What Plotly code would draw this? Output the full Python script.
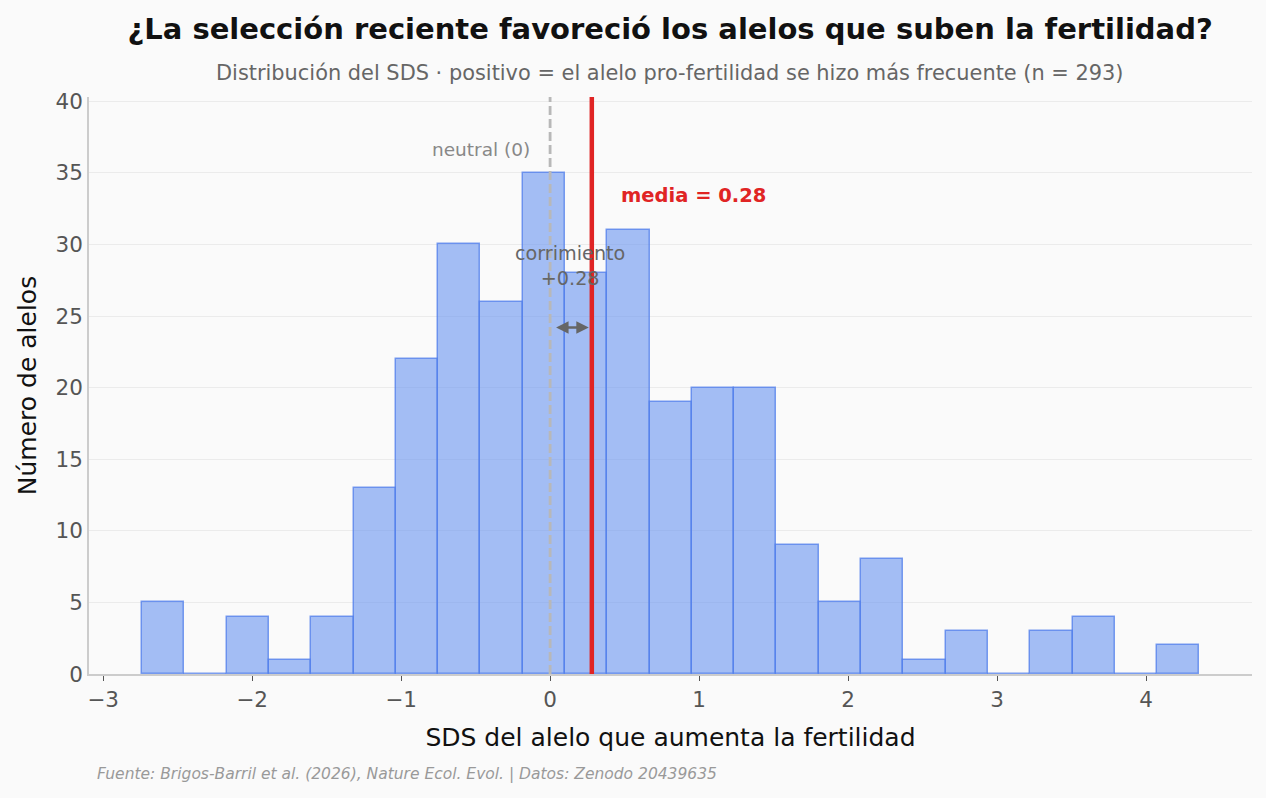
import plotly.graph_objects as go

# Histogram bins (left edge of first bin and common width) and counts
bin_start = -2.738
bin_width = 0.2838
counts = [5, 0, 4, 1, 4, 13, 22, 30, 26, 35, 28, 31, 19, 20, 20, 9, 5, 8, 1, 3, 0, 3, 4, 0, 2]
mean_sds = 0.28
n_total = 293
x_tickvals = [-3, -2, -1, 0, 1, 2, 3, 4]
x_ticktext = ["−3", "−2", "−1", "0", "1", "2", "3", "4"]
y_tickvals = [0, 5, 10, 15, 20, 25, 30, 35, 40]

x_centers = [bin_start + bin_width * (i + 0.5) for i in range(len(counts))]

fig = go.Figure()
fig.add_trace(go.Bar(
    x=x_centers, y=counts, width=[bin_width] * len(counts),
    marker=dict(color="rgba(100,145,240,0.58)",
                line=dict(color="rgba(80,125,235,0.75)", width=1.5)),
    hoverinfo="x+y", showlegend=False,
))

# neutral line
fig.add_shape(type="line", x0=0, x1=0, y0=0, y1=1, xref="x", yref="paper", layer="above",
              line=dict(color="#b8b8b8", width=2.8, dash="9px,4px"))
# mean line
fig.add_shape(type="line", x0=mean_sds, x1=mean_sds, y0=0, y1=1, xref="x", yref="paper", layer="above",
              line=dict(color="#e02424", width=4.5))

fig.add_annotation(x=-0.12, y=36.6, text="neutral (0)", showarrow=False, xanchor="right",
                   font=dict(size=18.5, color="#888888"))
fig.add_annotation(x=0.46, y=33.4, text="<b>media = %.2f</b>" % mean_sds, showarrow=False,
                   xanchor="left", font=dict(size=19.5, color="#e02424"))
fig.add_annotation(x=0.135, y=28.5, text="corrimiento<br>+%.2f" % mean_sds, showarrow=False,
                   font=dict(size=19.2, color="#666666"))
fig.add_annotation(x=mean_sds - 0.02, y=24.2, ax=0.03, ay=24.2, axref="x", ayref="y",
                   xref="x", yref="y", text="", showarrow=True, arrowhead=2, arrowside="end+start",
                   arrowsize=1, arrowwidth=2.5, arrowcolor="#666666")

fig.update_layout(
    width=1266, height=798,
    paper_bgcolor="#fafafa", plot_bgcolor="#fafafa",
    margin=dict(l=89, r=14, t=97, b=124),
    font=dict(family="DejaVu Sans", color="#555555"),
    title=dict(text="<b>¿La selección reciente favoreció los alelos que suben la fertilidad?</b>",
               x=0.5293, xanchor="center", y=0.964, yanchor="middle",
               font=dict(size=29, color="#111111")),
    bargap=0,
    xaxis=dict(range=[-3.094, 4.71], tickvals=x_tickvals, ticktext=x_ticktext,
               showgrid=False, zeroline=False, showline=True, linecolor="#cccccc", linewidth=1.5,
               ticks="outside", ticklen=5, tickcolor="#555555", tickfont=dict(size=21.5),
               title=dict(text="SDS del alelo que aumenta la fertilidad", font=dict(size=25, color="#111111"),
                          standoff=18)),
    yaxis=dict(range=[0, 40.3], tickvals=y_tickvals,
               showgrid=True, gridcolor="#ebebeb", zeroline=False, showline=True,
               linecolor="#cccccc", linewidth=1.5, tickfont=dict(size=21.5),
               title=dict(text="Número de alelos", font=dict(size=25, color="#111111"), standoff=12)),
)

fig.add_annotation(x=0.4996, y=1 + (97 - 73) / 577, xref="paper", yref="paper", xanchor="center", yanchor="middle",
                   text="Distribución del SDS · positivo = el alelo pro-fertilidad se hizo más frecuente (n = %d)" % n_total,
                   showarrow=False, font=dict(size=20.9, color="#666666"))
fig.add_annotation(x=0.0052, y=-(774 - 674) / 577, xref="paper", yref="paper", xanchor="left", yanchor="middle",
                   text="<i>Fuente: Brigos-Barril et al. (2026), Nature Ecol. Evol. | Datos: Zenodo 20439635</i>",
                   showarrow=False, font=dict(size=15.5, color="#999999"))

fig.write_html("out.html")
